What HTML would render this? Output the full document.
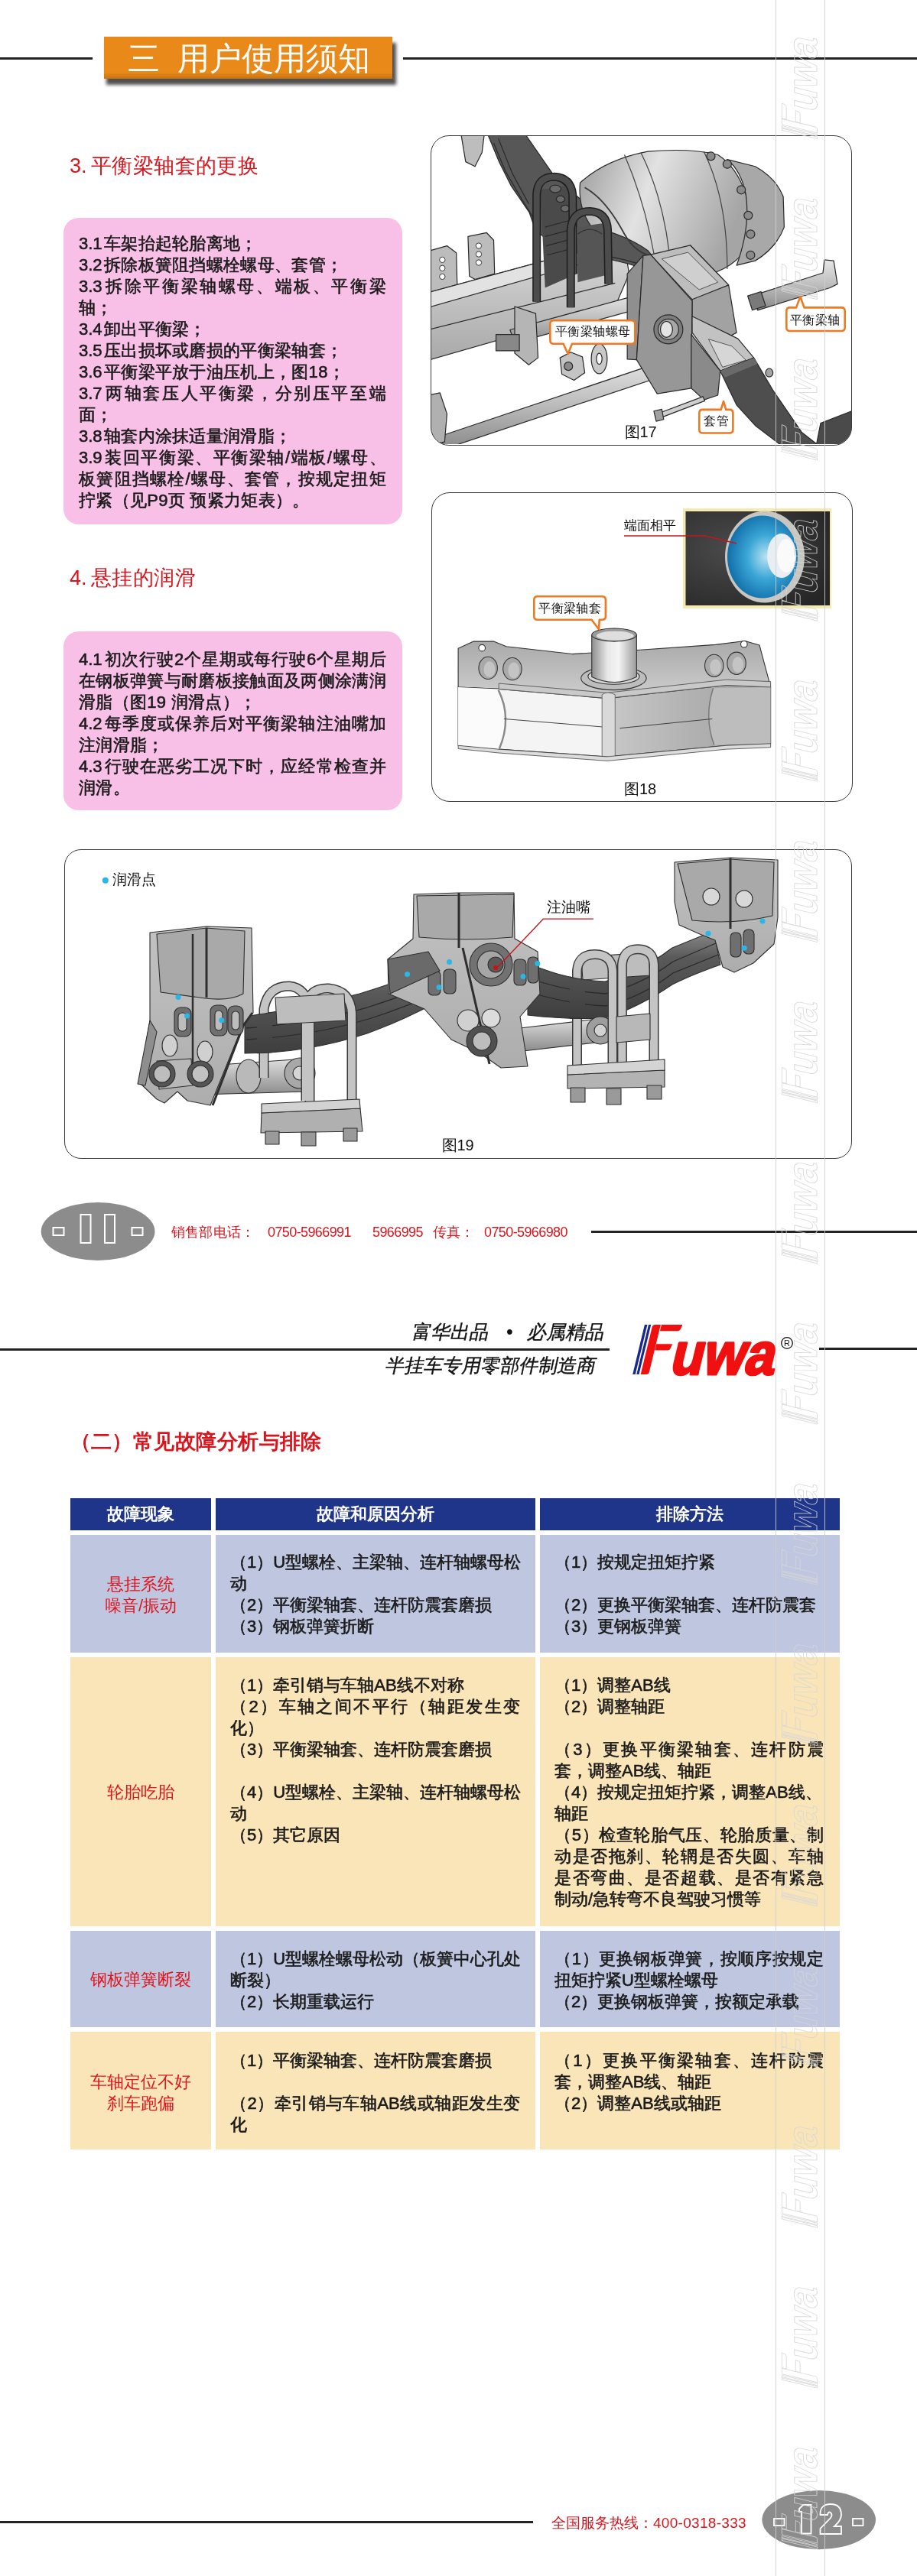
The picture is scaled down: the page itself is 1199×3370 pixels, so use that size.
<!DOCTYPE html>
<html><head><meta charset="utf-8">
<style>
*{margin:0;padding:0;box-sizing:border-box}
html,body{width:1199px;height:3370px;overflow:hidden;background:#fff}
body{position:relative;font-family:"Liberation Sans",sans-serif;color:#1a1a1a}
.a{position:absolute}
.hl{position:absolute;height:2.6px;background:#222}
.red{color:#d9141c}
.pink{position:absolute;background:#f8c0e7;border-radius:20px}
.pl{position:absolute;left:20px;width:402px;font-size:22px;letter-spacing:0.3px;line-height:28px;white-space:nowrap;height:28px;-webkit-text-stroke:0.6px #1a1a1a}
.pl.j{text-align:justify;text-align-last:justify}
.n{display:inline-block;width:33px;letter-spacing:0}
.fig{position:absolute;border:1.5px solid #3a3a3a;border-radius:22px;overflow:hidden;background:#fff}
.tag{position:absolute;border:2.5px solid #e07a1e;border-radius:6px;background:#fff;font-size:15px;line-height:22px;padding:0 6px;white-space:nowrap;color:#111}
.cap{position:absolute;font-size:17px;color:#111}
.th{position:absolute;background:#1f358a;color:#fff;font-size:22px;font-weight:bold;text-align:center;line-height:42px}
.cb{position:absolute;background:#bfc6df}
.cy{position:absolute;background:#fae5b9}
.ct{position:absolute;font-size:22px;line-height:28px;color:#1a1a1a;-webkit-text-stroke:0.6px #1a1a1a}
.cr{position:absolute;font-size:22px;line-height:28px;color:#e0141c;text-align:center}
</style></head><body><div id="wrap" style="position:absolute;left:0;top:0;width:1199px;height:3370px;will-change:transform">

<!-- ============ PAGE 1 ============ -->
<div class="hl" style="left:0;top:75.3px;width:121px"></div>
<div class="hl" style="left:527px;top:75.3px;width:672px"></div>
<div class="a" style="left:139px;top:56px;width:379px;height:55px;background:#505050;filter:blur(2px)"></div>
<div class="a" style="left:136px;top:48px;width:377px;height:55px;background:linear-gradient(#e8891a 0,#e8891a 85%,#c9730f 100%)"></div>
<div class="a" style="left:167px;top:51px;font-size:42px;line-height:52px;color:#fff;white-space:nowrap">三&nbsp;&nbsp;用户使用须知</div>

<div class="a red" style="left:91px;top:200px;font-size:27px;letter-spacing:0.4px;line-height:34px;white-space:nowrap"><span style="display:inline-block;width:28px;letter-spacing:0">3.</span>平衡梁轴套的更换</div>

<div class="pink" style="left:83px;top:285px;width:443px;height:401px">
<div class="pl" style="top:20px"><span class="n">3.1</span>车架抬起轮胎离地；</div>
<div class="pl" style="top:48px"><span class="n">3.2</span>拆除板簧阻挡螺栓螺母、套管；</div>
<div class="pl j" style="top:76px"><span class="n">3.3</span>拆除平衡梁轴螺母、端板、平衡梁</div>
<div class="pl" style="top:104px">轴；</div>
<div class="pl" style="top:132px"><span class="n">3.4</span>卸出平衡梁；</div>
<div class="pl" style="top:160px"><span class="n">3.5</span>压出损坏或磨损的平衡梁轴套；</div>
<div class="pl" style="top:188px"><span class="n">3.6</span>平衡梁平放于油压机上，图18；</div>
<div class="pl j" style="top:216px"><span class="n">3.7</span>两轴套压人平衡梁，分别压平至端</div>
<div class="pl" style="top:244px">面；</div>
<div class="pl" style="top:272px"><span class="n">3.8</span>轴套内涂抹适量润滑脂；</div>
<div class="pl j" style="top:300px"><span class="n">3.9</span>装回平衡梁、平衡梁轴/端板/螺母、</div>
<div class="pl j" style="top:328px">板簧阻挡螺栓/螺母、套管，按规定扭矩</div>
<div class="pl" style="top:356px">拧紧（见P9页 预紧力矩表）。</div>
</div>

<div class="a red" style="left:91px;top:739px;font-size:27px;letter-spacing:0.4px;line-height:34px;white-space:nowrap"><span style="display:inline-block;width:28px;letter-spacing:0">4.</span>悬挂的润滑</div>

<div class="pink" style="left:83px;top:826px;width:443px;height:234px">
<div class="pl j" style="top:23px"><span class="n">4.1</span>初次行驶2个星期或每行驶6个星期后</div>
<div class="pl j" style="top:51px">在钢板弹簧与耐磨板接触面及两侧涂满润</div>
<div class="pl" style="top:79px">滑脂（图19 润滑点）；</div>
<div class="pl j" style="top:107px"><span class="n">4.2</span>每季度或保养后对平衡梁轴注油嘴加</div>
<div class="pl" style="top:135px">注润滑脂；</div>
<div class="pl j" style="top:163px"><span class="n">4.3</span>行驶在恶劣工况下时，应经常检查并</div>
<div class="pl" style="top:191px">润滑。</div>
</div>

<!-- FIG17 -->
<svg class="a" style="left:563px;top:178px" width="552" height="403" viewBox="563 178 552 403">
<defs>
<linearGradient id="g17d" x1="0" y1="0" x2="1" y2="0.3"><stop offset="0" stop-color="#9a9a9a"/><stop offset="0.45" stop-color="#e2e2e2"/><stop offset="1" stop-color="#a5a5a5"/></linearGradient>
<linearGradient id="g17r" x1="0" y1="0" x2="0" y2="1"><stop offset="0" stop-color="#e6e6e6"/><stop offset="0.5" stop-color="#bdbdbd"/><stop offset="1" stop-color="#8a8a8a"/></linearGradient>
<linearGradient id="g17b" x1="0" y1="0" x2="0" y2="1"><stop offset="0" stop-color="#d8d8d8"/><stop offset="1" stop-color="#a9a9a9"/></linearGradient>
<clipPath id="c17"><rect x="563.5" y="177" width="550" height="405" rx="23.5"/></clipPath>
</defs>
<g clip-path="url(#c17)">
<g transform="translate(560,175) scale(0.6107)" stroke="#2a2a2a" stroke-width="2" stroke-linejoin="round">
<!-- top-left brackets -->
<polygon points="70,0 120,0 115,40 100,70 80,60" fill="#bdbdbd"/>
<polygon points="5,250 40,240 60,255 62,330 20,345 5,340" fill="#bcbcbc"/>
<polygon points="85,220 125,212 140,228 142,300 100,312 88,305" fill="#bcbcbc"/>
<g fill="#fff" stroke-width="1.5"><circle cx="30" cy="270" r="6"/><circle cx="30" cy="288" r="6"/><circle cx="30" cy="306" r="6"/><circle cx="108" cy="240" r="6"/><circle cx="108" cy="258" r="6"/><circle cx="108" cy="276" r="6"/></g>
<!-- main beam -->
<polygon points="0,340 330,250 420,240 430,300 400,370 0,485" fill="url(#g17b)"/>
<polygon points="0,340 330,250 340,275 0,372" fill="#e2e2e2"/>
<line x1="0" y1="420" x2="400" y2="320"/>
<!-- spring -->
<path d="M128,3 L209,3 L270,91 L328,142 L393,188 L458,221 L524,254 L557,278 L508,303 L426,278 L360,262 L311,254 L262,234 L229,205 L216,168 L177,111 L152,61 Z" fill="#575757"/>
<path d="M140,20 L165,80 L200,140 L228,185 M150,10 L180,85 L215,150 M330,250 L420,270 L500,292" fill="none" stroke="#2a2a2a" stroke-width="2"/>
<!-- drum -->
<path d="M325,105 Q380,55 470,38 Q560,30 620,45 Q660,70 680,130 Q695,200 670,260 Q630,305 545,310 Q500,290 470,250 Q420,215 350,200 Q320,160 325,105 Z" fill="url(#g17d)"/>
<path d="M420,45 Q470,160 490,300 M455,40 Q510,150 520,300 M590,38 Q640,140 640,290" fill="none" stroke="#444" stroke-width="2"/>
<path d="M335,115 Q380,140 420,215 Q440,250 470,260" fill="none" stroke="#3a3a3a" stroke-width="3"/>
<!-- hub -->
<path d="M640,55 L700,70 Q745,95 760,135 L762,200 Q745,245 700,272 L660,282 Q690,200 680,130 Q670,80 640,55 Z" fill="#a8a8a8"/>
<g fill="#8a8a8a"><circle cx="605" cy="48" r="9"/><circle cx="640" cy="65" r="9"/><circle cx="670" cy="120" r="9"/><circle cx="685" cy="175" r="9"/><circle cx="690" cy="215" r="9"/><circle cx="690" cy="260" r="9"/></g>
<!-- U bolts -->
<polygon points="240,120 305,110 318,300 250,330" fill="#4a4a4a" stroke="none"/>
<path d="M250,200 L305,185 M250,220 L308,205 M252,240 L310,225 M254,260 L312,245" stroke="#2a2a2a" stroke-width="2" fill="none"/>
<g fill="#6a6a6a"><ellipse cx="272" cy="118" rx="12" ry="8"/><ellipse cx="283" cy="140" rx="9" ry="7"/><ellipse cx="293" cy="160" rx="9" ry="7"/></g>
<path d="M232,360 L232,130 Q234,92 270,92 Q305,94 309,130 L310,300" fill="none" stroke="#1e1e1e" stroke-width="18"/>
<path d="M232,360 L232,130 Q234,92 270,92 Q305,94 309,130 L310,300" fill="none" stroke="#4c4c4c" stroke-width="13"/>
<polygon points="318,200 385,190 392,300 320,318" fill="#555" stroke="none"/>
<path d="M305,372 L305,205 Q308,166 346,166 Q382,168 384,205 L386,322" fill="none" stroke="#1e1e1e" stroke-width="18"/>
<path d="M305,372 L305,205 Q308,166 346,166 Q382,168 384,205 L386,322" fill="none" stroke="#4c4c4c" stroke-width="13"/>
<path d="M320,215 Q345,195 372,215" fill="none" stroke="#333" stroke-width="2"/>
<!-- second rod (axle) -->
<polygon points="175,420 450,345 462,372 185,448" fill="url(#g17r)"/>
<!-- left bearing plate -->
<polygon points="185,370 230,385 235,480 215,495 185,470" fill="#b5b5b5"/>
<rect x="145" y="430" width="50" height="35" fill="#888"/>
<!-- lower long rod -->
<polygon points="25,648 525,480 535,508 35,675" fill="url(#g17r)"/>
<!-- bracket -->
<polygon points="426,300 460,261 446,484 426,483" fill="#8f8f8f"/>
<polygon points="561,239 643,324 660,426 630,442 565,426 565,355" fill="#a2a2a2"/>
<polygon points="476,259 561,239 643,324 565,355" fill="#bdbdbd"/>
<polygon points="500,268 556,254 620,318 580,334" fill="#cfcfcf" stroke-width="1.2"/>
<polygon points="460,261 476,259 565,358 563,545 490,557 446,484" fill="#979797"/>
<circle cx="514" cy="419" r="31" fill="#7d7d7d"/>
<circle cx="514" cy="419" r="22" fill="#a8a8a8"/>
<ellipse cx="510" cy="419" rx="13" ry="17" fill="#e4e4e4"/>
<!-- sleeve / arm -->
<polygon points="565,391 663,439 697,480 625,508 565,426" fill="#c2c2c2"/>
<polygon points="600,440 650,455 680,485 630,500" fill="#d6d6d6" stroke-width="1.2"/>
<polygon points="563,430 625,508 620,560 590,570 563,545" fill="#8a8a8a"/>
<polygon points="625,508 697,480 737,548 800,640 840,671 760,671 700,625 660,581" fill="#4e4e4e"/>
<polygon points="625,508 697,480 705,493 635,522" fill="#6a6a6a" stroke="none"/>
<!-- pin -->
<path d="M700,345 L845,298 L848,270 L868,272 L876,322 L860,330 L705,378 Z" fill="url(#g17r)"/>
<rect x="688" y="342" width="30" height="32" fill="#7a7a7a" transform="rotate(-18 703 358)"/>
<!-- nut & washer -->
<polygon points="282,480 305,468 330,478 335,512 312,528 286,515" fill="#c4c4c4"/>
<circle cx="300" cy="498" r="9" fill="#8a8a8a"/>
<ellipse cx="366" cy="482" rx="17" ry="32" fill="#c8c8c8"/>
<ellipse cx="366" cy="482" rx="6" ry="12" fill="#fff"/>
<!-- thin bolt -->
<polygon points="495,598 588,563 592,572 498,608" fill="#cfcfcf"/>
<polygon points="483,594 500,590 504,612 488,616" fill="#a0a0a0"/>
<ellipse cx="730" cy="512" rx="8" ry="9" fill="#a5a5a5"/>
<!-- bottom-left bracket -->
<polygon points="0,560 25,555 40,600 35,660 0,665" fill="#b0b0b0"/>
<!-- bottom right dark -->
<polygon points="840,620 917,590 917,671 830,671" fill="#4a4a4a"/>
</g>
</g>
</svg>
<svg class="a" style="left:715.4px;top:414.5px" width="119.6" height="51.0" viewBox="715.4 414.5 119.6 51.0"><path d="M724.1999999999999,418.8 H826.2 Q830.7,418.8 830.7,423.3 V444.8 Q830.7,449.3 826.2,449.3 H748.4 L743,462.5 L737,449.3 H724.1999999999999 Q719.6999999999999,449.3 719.6999999999999,444.8 V423.3 Q719.6999999999999,418.8 724.1999999999999,418.8 Z" fill="#fff" stroke="#f07820" stroke-width="2.6" stroke-linejoin="round"/></svg>
<div class="a" style="left:726.1px;top:422.2px;font-size:16px;letter-spacing:0.4px;line-height:23.6px;white-space:nowrap;color:#111">平衡梁轴螺母</div>
<svg class="a" style="left:1023.5px;top:385.2px" width="85.0" height="52.3" viewBox="1023.5 385.2 85.0 52.3"><path d="M1032.3,402.6 H1040.6 L1045.9,388.2 L1051,402.6 H1099.7 Q1104.2,402.6 1104.2,407.1 V428.7 Q1104.2,433.2 1099.7,433.2 H1032.3 Q1027.8,433.2 1027.8,428.7 V407.1 Q1027.8,402.6 1032.3,402.6 Z" fill="#fff" stroke="#f07820" stroke-width="2.6" stroke-linejoin="round"/></svg>
<div class="a" style="left:1032.9px;top:406.6px;font-size:16px;letter-spacing:0.4px;line-height:23.6px;white-space:nowrap;color:#111">平衡梁轴</div>
<svg class="a" style="left:910.1px;top:521.8px" width="52.7" height="48.8" viewBox="910.1 521.8 52.7 48.8"><path d="M918.9,535.6999999999999 H942.8 L946.2,524.8 L949.3,535.6999999999999 H954.0 Q958.5,535.6999999999999 958.5,540.1999999999999 V561.8000000000001 Q958.5,566.3000000000001 954.0,566.3000000000001 H918.9 Q914.4,566.3000000000001 914.4,561.8000000000001 V540.1999999999999 Q914.4,535.6999999999999 918.9,535.6999999999999 Z" fill="#fff" stroke="#f07820" stroke-width="2.6" stroke-linejoin="round"/></svg>
<div class="a" style="left:920.3px;top:539.4px;font-size:16px;letter-spacing:0.4px;line-height:23.6px;white-space:nowrap;color:#111">套管</div>
<div class="cap" style="left:816.5px;top:551.5px;font-size:20px;line-height:26px">图17</div>
<div class="fig" id="f17" style="left:563px;top:176.5px;width:551px;height:406px;border-radius:24px;background:transparent"></div>
<!-- FIG18 -->
<svg class="a" style="left:564px;top:645px" width="549" height="405" viewBox="564 645 549 405">
<defs>
<linearGradient id="g18c" x1="0" y1="0" x2="1" y2="0"><stop offset="0" stop-color="#8e8e8e"/><stop offset="0.35" stop-color="#e8e8e8"/><stop offset="0.6" stop-color="#f4f4f4"/><stop offset="1" stop-color="#9a9a9a"/></linearGradient>
<linearGradient id="g18t" x1="0" y1="0" x2="0" y2="1"><stop offset="0" stop-color="#a9a9a9"/><stop offset="1" stop-color="#cfcfcf"/></linearGradient>
<linearGradient id="g18r" x1="0" y1="0" x2="1" y2="0"><stop offset="0" stop-color="#c8c8c8"/><stop offset="0.5" stop-color="#b2b2b2"/><stop offset="1" stop-color="#a0a0a0"/></linearGradient>
<linearGradient id="g18l" x1="0" y1="0" x2="1" y2="0"><stop offset="0" stop-color="#f2f2f2"/><stop offset="0.55" stop-color="#f7f7f7"/><stop offset="0.75" stop-color="#d0d0d0"/><stop offset="1" stop-color="#f3f3f3"/></linearGradient>
<radialGradient id="g18b" cx="0.55" cy="0.5" r="0.6"><stop offset="0" stop-color="#b8e2f2"/><stop offset="0.45" stop-color="#3aa6d6"/><stop offset="1" stop-color="#0b64a0"/></radialGradient>
<radialGradient id="g18k" cx="0.3" cy="0.4" r="0.8"><stop offset="0" stop-color="#4a4a4a"/><stop offset="1" stop-color="#262626"/></radialGradient>
</defs>
<g transform="translate(560,640) scale(0.6107)" stroke="#333" stroke-width="1.8" stroke-linejoin="round">
<!-- top face -->
<path d="M64,341 L97,326 L140,326 L167,337 L308,353 L442,345 L615,333 L678,325 L709,334 L733,424 L638,420 L383,448 L151,428 L64,424 Z" fill="url(#g18t)"/>
<!-- left front -->
<path d="M64,424 L151,428 L383,448 L383,573 L151,557 L64,549 Z" fill="#f4f4f4"/>
<path d="M64,424 L151,428 Q178,490 152,557 L64,549 Z" fill="#fbfbfb" stroke="none"/>
<path d="M150,430 Q180,490 152,556" fill="none" stroke="#8a8a8a" stroke-width="4"/>
<line x1="162" y1="492" x2="383" y2="510" stroke-width="1.5"/>
<!-- right front -->
<path d="M383,448 L638,420 L733,424 L733,545 L638,549 L383,573 Z" fill="url(#g18r)"/>
<path d="M610,426 Q590,488 612,548 L733,545 L733,424 Z" fill="#bdbdbd" stroke="none"/>
<path d="M610,426 Q590,488 612,548" fill="none" stroke="#7a7a7a" stroke-width="2.5"/>
<line x1="410" y1="512" x2="608" y2="492" stroke-width="1.5"/>
<!-- bevel band -->
<path d="M151,428 L383,448 L638,420 L733,424 L733,412 L638,408 L383,436 L151,416 Z" fill="#c9c9c9" stroke="#555" stroke-width="1.5"/>
<path d="M372,440 Q383,432 400,440 L400,575 L372,572 Z" fill="#d9d9d9" stroke="#666" stroke-width="1.5"/>
<path d="M64,549 L151,557 L383,573 L638,549 L733,545 L733,553 L638,557 L383,582 L151,565 L64,556 Z" fill="#dcdcdc" stroke-width="1.2"/>
<!-- holes -->
<g fill="#a9a9a9"><ellipse cx="128" cy="383" rx="20" ry="24"/><ellipse cx="180" cy="385" rx="20" ry="24"/><ellipse cx="612" cy="378" rx="20" ry="24"/><ellipse cx="660" cy="373" rx="20" ry="24"/></g>
<g fill="#c4c4c4" stroke="none"><ellipse cx="131" cy="386" rx="12" ry="17"/><ellipse cx="183" cy="388" rx="12" ry="17"/><ellipse cx="615" cy="381" rx="12" ry="17"/><ellipse cx="663" cy="376" rx="12" ry="17"/></g>
<g fill="#fff"><circle cx="115" cy="340" r="7"/><circle cx="676" cy="332" r="7"/></g>
<!-- flange & sleeve -->
<ellipse cx="397" cy="405" rx="70" ry="25" fill="#bdbdbd"/>
<ellipse cx="397" cy="401" rx="55" ry="17" fill="#d6d6d6"/>
<path d="M350,312 L350,402 Q398,425 446,402 L446,312 Z" fill="url(#g18c)"/>
<ellipse cx="398" cy="312" rx="48" ry="14" fill="#9a9a9a"/>
<ellipse cx="400" cy="314" rx="40" ry="10" fill="#dedede" stroke="none"/>
</g>
<!-- photo -->
<rect x="893" y="665" width="194" height="131" fill="#f6eab0"/>
<rect x="896.5" y="669" width="188.5" height="123" fill="url(#g18k)"/>
<ellipse cx="1000" cy="728.5" rx="52" ry="60" fill="#c8c6c0"/>
<ellipse cx="997" cy="728.5" rx="46" ry="54" fill="url(#g18b)"/>
<ellipse cx="1022" cy="727" rx="19" ry="29" fill="#e8eef2"/>
<ellipse cx="1028" cy="727" rx="12" ry="22" fill="#fafafa"/>
<polyline points="816,701 922,701 963,711" fill="none" stroke="#c8141c" stroke-width="1.4"/>
</svg>
<div class="a" style="left:816px;top:675.5px;font-size:17px;line-height:23px;color:#111;white-space:nowrap">端面相平</div>
<svg class="a" style="left:694.2px;top:776.4px" width="102.2" height="50.3" viewBox="694.2 776.4 102.2 50.3"><path d="M703.0,780.6999999999999 H787.6 Q792.1,780.6999999999999 792.1,785.1999999999999 V806.7 Q792.1,811.2 787.6,811.2 H784 L783.2,823.7 L773.7,811.2 H703.0 Q698.5,811.2 698.5,806.7 V785.1999999999999 Q698.5,780.6999999999999 703.0,780.6999999999999 Z" fill="#fff" stroke="#f07820" stroke-width="2.6" stroke-linejoin="round"/></svg>
<div class="a" style="left:704.3px;top:783.7px;font-size:16px;letter-spacing:0.4px;line-height:23.6px;white-space:nowrap;color:#111">平衡梁轴套</div>
<div class="cap" style="left:816px;top:1019px;font-size:20px;line-height:26px">图18</div>
<div class="fig" id="f18" style="left:563.5px;top:643.7px;width:551px;height:405.5px;border-radius:24px;background:transparent"></div>
<!-- FIG19 -->
<svg class="a" style="left:83px;top:1110px" width="1031" height="405" viewBox="83 1110 1031 405">
<defs>
<clipPath id="cL"><rect x="336" y="1300" width="20" height="100"/></clipPath><clipPath id="cR"><rect x="745" y="1250" width="20" height="100"/></clipPath>
<linearGradient id="g19s" x1="0" y1="0" x2="0" y2="1"><stop offset="0" stop-color="#8a8a8a"/><stop offset="0.3" stop-color="#5a5a5a"/><stop offset="1" stop-color="#3e3e3e"/></linearGradient>
<linearGradient id="g19u" x1="0" y1="0" x2="1" y2="0"><stop offset="0" stop-color="#9c9c9c"/><stop offset="0.5" stop-color="#d6d6d6"/><stop offset="1" stop-color="#a0a0a0"/></linearGradient>
<linearGradient id="g19t" x1="0" y1="0" x2="0" y2="1"><stop offset="0" stop-color="#e0e0e0"/><stop offset="0.5" stop-color="#b5b5b5"/><stop offset="1" stop-color="#8c8c8c"/></linearGradient>
<linearGradient id="g19h" x1="0" y1="0" x2="0" y2="1"><stop offset="0" stop-color="#c2c2c2"/><stop offset="1" stop-color="#adadad"/></linearGradient>
</defs>
<g stroke="#2e2e2e" stroke-width="1.1" stroke-linejoin="round">
<!-- ===== LEFT SPRING ===== -->
<path id="sprL" d="M320,1330 Q400,1318 470,1300 Q520,1285 560,1268 L585,1262 L590,1300 Q540,1330 480,1352 Q400,1378 320,1378 Z" fill="url(#g19s)"/>
<path d="M322,1345 Q410,1338 480,1318 Q530,1302 585,1280 M322,1360 Q410,1355 482,1333 Q535,1316 588,1293" fill="none" stroke="#2a2a2a" stroke-width="1.3"/>
<!-- ===== RIGHT SPRING ===== -->
<path id="sprR" d="M690,1260 Q740,1282 791,1284 Q840,1270 879,1240 L933,1218 L942,1262 Q905,1275 879,1288 Q835,1318 791,1332 Q740,1334 690,1328 Z" fill="url(#g19s)"/>
<path d="M692,1280 Q745,1298 792,1300 Q840,1288 880,1258 L936,1234 M692,1298 Q745,1314 792,1316 Q840,1304 880,1273 L939,1249" fill="none" stroke="#2a2a2a" stroke-width="1.3"/>
<!-- ===== LEFT TORQUE ROD ===== -->
<path d="M258,1395 L400,1385 L402,1428 L262,1432 Z" fill="url(#g19t)"/>
<circle cx="265" cy="1408" r="20" fill="#9a9a9a"/><circle cx="265" cy="1408" r="10" fill="#cfcfcf"/>
<circle cx="392" cy="1404" r="20" fill="#a8a8a8"/><circle cx="392" cy="1404" r="9" fill="#d5d5d5"/>
<ellipse cx="325" cy="1408" rx="16" ry="22" fill="#b9b9b9"/>
<!-- ===== LEFT HANGER ===== -->
<path d="M196,1220 L270,1212 L329,1214 L331,1325 L318,1340 L275,1446 L245,1440 L232,1428 L215,1443 L205,1438 L182,1416 L196,1335 Z" fill="url(#g19h)"/>
<path d="M205,1222 L270,1214 L320,1218 L318,1300 Q300,1310 268,1306 L210,1298 Z" fill="#a9a9a9"/>
<path d="M180,1418 L196,1335 L205,1350 L190,1420 Z" fill="#8e8e8e"/>
<line x1="270" y1="1214" x2="270" y2="1305" stroke-width="3"/>
<line x1="252" y1="1222" x2="252" y2="1420" stroke-width="2.5"/>
<path d="M330,1325 L318,1342 L278,1446" fill="none" stroke-width="3"/>
<g fill="#6f6f6f"><rect x="228" y="1318" width="22" height="38" rx="8"/><rect x="275" y="1315" width="22" height="40" rx="8"/><rect x="298" y="1316" width="20" height="38" rx="8"/></g>
<g fill="#bdbdbd"><rect x="233" y="1325" width="11" height="24" rx="5"/><rect x="281" y="1322" width="10" height="26" rx="5"/><rect x="303" y="1323" width="10" height="24" rx="5"/></g>
<ellipse cx="222" cy="1368" rx="10" ry="14" fill="#d0d0d0"/><ellipse cx="268" cy="1376" rx="10" ry="14" fill="#d0d0d0"/>
<path d="M205,1388 L250,1385 L252,1420 L208,1425 Z" fill="#b8b8b8"/>
<circle cx="212" cy="1405" r="17" fill="#555"/><circle cx="212" cy="1405" r="11" fill="#bdbdbd"/>
<circle cx="262" cy="1405" r="17" fill="#555"/><circle cx="262" cy="1405" r="11" fill="#c2c2c2"/>
<!-- ===== LEFT U-BOLT ===== -->
<path d="M345,1410 L345,1320 Q350,1290 378,1290 Q400,1292 405,1320 L405,1450 M400,1440 L400,1315 Q405,1292 430,1293 Q458,1296 460,1325 L460,1450" fill="none" stroke="#3a3a3a" stroke-width="13"/>
<path d="M345,1410 L345,1320 Q350,1290 378,1290 Q400,1292 405,1320 L405,1450 M400,1440 L400,1315 Q405,1292 430,1293 Q458,1296 460,1325 L460,1450" fill="none" stroke="#c4c4c4" stroke-width="10"/>
<path d="M360,1305 L450,1300 L452,1335 L362,1340 Z" fill="#bdbdbd"/>
<use href="#sprL" clip-path="url(#cL)"/>
<path d="M342,1456 L471,1450 L474,1480 L341,1482 Z" fill="#b0b0b0"/>
<path d="M342,1444 L470,1438 L471,1450 L342,1456 Z" fill="#d2d2d2"/>
<g fill="#9a9a9a"><rect x="347" y="1480" width="18" height="17"/><rect x="394" y="1481" width="19" height="18"/><rect x="449" y="1476" width="18" height="17"/></g>
<!-- ===== MIDDLE TORQUE ROD ===== -->
<path d="M680,1345 L790,1332 L795,1362 L684,1375 Z" fill="url(#g19t)"/>
<circle cx="785" cy="1348" r="18" fill="#9d9d9d"/><circle cx="785" cy="1348" r="8" fill="#d2d2d2"/>
<!-- ===== MIDDLE HANGER ===== -->
<path d="M541,1170 L600,1168 L672,1168 L673,1228 L703,1245 L706,1300 L680,1330 L690,1395 L655,1397 L628,1378 L590,1360 L555,1320 L508,1300 L507,1255 L540,1228 Z" fill="url(#g19h)"/>
<path d="M545,1172 L672,1170 L670,1226 Q610,1232 548,1226 Z" fill="#a9a9a9"/>
<line x1="600" y1="1168" x2="600" y2="1240" stroke-width="3"/>
<line x1="605" y1="1240" x2="640" y2="1392" stroke-width="3"/>
<circle cx="642" cy="1262" r="28" fill="#727272"/><circle cx="642" cy="1262" r="18" fill="#a6a6a6"/><circle cx="648" cy="1262" r="10" fill="#5a5a5a"/>
<circle cx="612" cy="1335" r="14" fill="#d0d0d0"/><circle cx="642" cy="1332" r="12" fill="#dcdcdc"/>
<circle cx="630" cy="1362" r="20" fill="#505050"/><circle cx="630" cy="1362" r="12" fill="#bdbdbd"/>
<g fill="#6f6f6f"><rect x="560" y="1270" width="16" height="32" rx="6"/><rect x="580" y="1268" width="16" height="32" rx="6"/><rect x="672" y="1255" width="16" height="34" rx="6"/><rect x="690" y="1252" width="14" height="34" rx="6"/></g>
<!-- ===== RIGHT U-BOLT ===== -->
<path d="M760,1252 L848,1246 L850,1276 L762,1282 Z" fill="#bdbdbd"/>
<path d="M754.5,1400 L754.5,1270 Q756,1248.6 778,1248.6 Q800,1249 801,1270 L801,1397 M813.4,1390 L813.4,1262 Q815,1241.7 834,1241.7 Q854,1242 855,1262 L855,1389" fill="none" stroke="#3a3a3a" stroke-width="13"/>
<path d="M754.5,1400 L754.5,1270 Q756,1248.6 778,1248.6 Q800,1249 801,1270 L801,1397 M813.4,1390 L813.4,1262 Q815,1241.7 834,1241.7 Q854,1242 855,1262 L855,1389" fill="none" stroke="#c4c4c4" stroke-width="10"/>
<path d="M806,1330 L850,1326 L850,1360 L806,1364 Z" fill="#b8b8b8"/>
<use href="#sprR" clip-path="url(#cR)"/>
<path d="M742,1406 L869,1400 L869,1422 L742,1424 Z" fill="#b3b3b3"/>
<path d="M742,1394 L869,1386 L869,1400 L742,1406 Z" fill="#d4d4d4"/>
<g fill="#9a9a9a"><rect x="746" y="1423" width="19" height="19"/><rect x="793" y="1424" width="19" height="21"/><rect x="846" y="1420" width="19" height="18"/></g>
<!-- ===== RIGHT HANGER ===== -->
<path d="M882,1128 L955,1122 L1017,1125 L1017,1200 L1012,1235 L985,1260 L960,1272 L945,1265 L935,1230 L915,1222 L888,1210 L882,1180 Z" fill="url(#g19h)"/>
<path d="M886,1130 L955,1124 L1012,1128 L1010,1198 Q960,1210 905,1204 Z" fill="#a9a9a9"/>
<line x1="955" y1="1123" x2="955" y2="1215" stroke-width="3"/>
<circle cx="930" cy="1173" r="11" fill="#d8d8d8"/><circle cx="973" cy="1176" r="11" fill="#d8d8d8"/>
<g fill="#6f6f6f"><rect x="955" y="1220" width="14" height="32" rx="6"/><rect x="972" y="1216" width="14" height="32" rx="6"/></g>
<!-- left end spring stub in middle hanger -->
<path d="M507,1255 L560,1245 L575,1270 L510,1300 Z" fill="#6a6a6a"/>
</g>
<!-- lube dots -->
<g fill="#29b6e8">
<circle cx="137.8" cy="1151.7" r="4"/>
<circle cx="233" cy="1304.5" r="3.5"/><circle cx="244.5" cy="1329" r="3.5"/><circle cx="289.8" cy="1334.7" r="3.5"/>
<circle cx="532.5" cy="1274.5" r="3.5"/><circle cx="574" cy="1291.5" r="3.5"/><circle cx="587.5" cy="1258.5" r="3.5"/>
<circle cx="702.8" cy="1260.5" r="3.5"/><circle cx="684" cy="1277.4" r="3.5"/>
<circle cx="926" cy="1221.3" r="3.5"/><circle cx="973.3" cy="1240.2" r="3.5"/><circle cx="997" cy="1205" r="3.5"/>
</g>
<polyline points="776,1202.2 710.3,1202.2 650,1266" fill="none" stroke="#c8141c" stroke-width="1.3"/>
<circle cx="648" cy="1266" r="3" fill="#d01010"/>
</svg>
<div class="a" style="left:147px;top:1138.5px;font-size:19px;line-height:24px;color:#111;white-space:nowrap">润滑点</div>
<div class="a" style="left:714.5px;top:1175px;font-size:19px;line-height:24px;color:#111;white-space:nowrap">注油嘴</div>
<div class="cap" style="left:577.5px;top:1484.5px;font-size:20px;line-height:26px">图19</div>
<div class="fig" id="f19" style="left:83.6px;top:1110.5px;width:1030.6px;height:405.3px;background:transparent"></div>

<!-- footer page1 -->
<svg class="a" style="left:50px;top:1568px" width="160" height="86" viewBox="50 1568 160 86">
<ellipse cx="128.1" cy="1611" rx="74.4" ry="38" fill="#8c8c8c"/>
<g fill="none" stroke="#fff" stroke-width="2">
<rect x="69.5" y="1606" width="14" height="10"/>
<rect x="105.5" y="1589" width="13" height="37"/>
<rect x="137" y="1589" width="13" height="37"/>
<rect x="172.5" y="1606" width="14" height="10"/>
</g></svg>
<div class="a" style="left:224px;top:1600px;font-size:18px;letter-spacing:0.2px;line-height:24px;color:#d9141c;white-space:nowrap">销售部电话：</div>
<div class="a" style="left:350px;top:1600px;font-size:18px;line-height:24px;color:#d9141c;white-space:nowrap;letter-spacing:-0.6px">0750-5966991</div>
<div class="a" style="left:487px;top:1600px;font-size:18px;line-height:24px;color:#d9141c;white-space:nowrap;letter-spacing:-0.6px">5966995</div>
<div class="a" style="left:566px;top:1600px;font-size:18px;letter-spacing:0.2px;line-height:24px;color:#d9141c;white-space:nowrap">传真：</div>
<div class="a" style="left:633px;top:1600px;font-size:18px;line-height:24px;color:#d9141c;white-space:nowrap;letter-spacing:-0.6px">0750-5966980</div>
<div class="hl" style="left:773px;top:1610px;width:426px"></div>


<!-- ============ PAGE 2 ============ -->
<div class="a" style="left:540px;top:1726px;-webkit-text-stroke:0.4px #111;font-size:25px;line-height:32px;white-space:nowrap;color:#111"><span style="display:inline-block;transform:skewX(-12deg)">富华出品</span></div>
<div class="a" style="left:662px;top:1726px;font-size:25px;line-height:32px;white-space:nowrap;color:#111">•</div>
<div class="a" style="left:691px;top:1726px;-webkit-text-stroke:0.4px #111;font-size:25px;line-height:32px;white-space:nowrap;color:#111"><span style="display:inline-block;transform:skewX(-12deg)">必属精品</span></div>
<div class="hl" style="left:0;top:1764px;width:797px"></div>
<div class="a" style="left:505px;top:1770px;-webkit-text-stroke:0.4px #111;font-size:25px;line-height:32px;white-space:nowrap;color:#111"><span style="display:inline-block;transform:skewX(-12deg)">半挂车专用零部件制造商</span></div>
<div class="hl" style="left:1071px;top:1763px;width:128px"></div>
<svg class="a" style="left:0;top:0" width="0" height="0"><defs>
<g id="fws"><polygon points="7.2,0 10.7,0 10.7,65 7.2,65"/><polygon points="12.3,0 15.5,0 15.5,65 12.3,65"/></g>
<g id="fwr"><path d="M17.7,3 Q17.7,0 21,0 L28.2,0 L28.2,62 Q28.2,65 25,65 L17.7,65 Z"/>
<path d="M29.2,0 L56,0 Q57,0 56.5,2 L55.5,6 Q55,8.3 52,8.3 L29.2,8.3 Z"/>
<path d="M28.6,25.3 L49.5,25.3 L48.5,31 Q48,33.6 45,33.6 L28.6,33.6 Z"/>
</g>
<g id="fwt"><text x="54" y="65" font-family="Liberation Sans" font-weight="bold" font-size="78" textLength="136" lengthAdjust="spacingAndGlyphs">uwa</text></g>
</defs></svg>
<svg class="a" style="left:820px;top:1725px" width="225" height="80" viewBox="0 0 225 80">
<g transform="translate(0,8) matrix(1,0,-0.2416,1,15.7,0)">
<use href="#fws" fill="#1a2a8a"/>
<use href="#fwr" fill="#f01010"/>
<use href="#fwt" fill="#f01010" stroke="#f01010" stroke-width="3.2" stroke-linejoin="round"/>
</g>
<circle cx="209" cy="32" r="7.3" fill="none" stroke="#111" stroke-width="1.3"/>
<text x="209" y="36" font-family="Liberation Sans" font-size="11" text-anchor="middle" fill="#111">R</text>
</svg>


<div class="a red" style="left:91.5px;top:1869px;font-size:27px;letter-spacing:0.45px;line-height:34px;font-weight:bold;white-space:nowrap">（二）常见故障分析与排除</div>

<div class="th" style="left:92px;top:1960px;width:184px;height:42px">故障现象</div>
<div class="th" style="left:282px;top:1960px;width:418px;height:42px">故障和原因分析</div>
<div class="th" style="left:706px;top:1960px;width:392px;height:42px">排除方法</div>
<div class="cb" style="left:92px;top:2008px;width:184px;height:154px"></div>
<div class="cb" style="left:282px;top:2008px;width:418px;height:154px"></div>
<div class="cb" style="left:706px;top:2008px;width:392px;height:154px"></div>
<div class="cy" style="left:92px;top:2168px;width:184px;height:352px"></div>
<div class="cy" style="left:282px;top:2168px;width:418px;height:352px"></div>
<div class="cy" style="left:706px;top:2168px;width:392px;height:352px"></div>
<div class="cb" style="left:92px;top:2526px;width:184px;height:126px"></div>
<div class="cb" style="left:282px;top:2526px;width:418px;height:126px"></div>
<div class="cb" style="left:706px;top:2526px;width:392px;height:126px"></div>
<div class="cy" style="left:92px;top:2658px;width:184px;height:154px"></div>
<div class="cy" style="left:282px;top:2658px;width:418px;height:154px"></div>
<div class="cy" style="left:706px;top:2658px;width:392px;height:154px"></div>
<div class="cr" style="left:92px;top:2059px;width:184px;white-space:nowrap">悬挂系统</div>
<div class="cr" style="left:92px;top:2087px;width:184px;white-space:nowrap">噪音/振动</div>
<div class="ct" style="left:301px;top:2030px;width:379px;text-align:justify;text-align-last:justify;white-space:nowrap">（1）U型螺栓、主梁轴、连杆轴螺母松</div>
<div class="ct" style="left:301px;top:2058px;width:379px;white-space:nowrap">动</div>
<div class="ct" style="left:301px;top:2086px;width:379px;white-space:nowrap">（2）平衡梁轴套、连杆防震套磨损</div>
<div class="ct" style="left:301px;top:2114px;width:379px;white-space:nowrap">（3）钢板弹簧折断</div>
<div class="ct" style="left:725px;top:2030px;width:352px;white-space:nowrap">（1）按规定扭矩拧紧</div>
<div class="ct" style="left:725px;top:2086px;width:352px;white-space:nowrap">（2）更换平衡梁轴套、连杆防震套</div>
<div class="ct" style="left:725px;top:2114px;width:352px;white-space:nowrap">（3）更钢板弹簧</div>
<div class="cr" style="left:92px;top:2331px;width:184px;white-space:nowrap">轮胎吃胎</div>
<div class="ct" style="left:301px;top:2191px;width:379px;white-space:nowrap">（1）牵引销与车轴AB线不对称</div>
<div class="ct" style="left:301px;top:2219px;width:379px;text-align:justify;text-align-last:justify;white-space:nowrap">（2）车轴之间不平行（轴距发生变</div>
<div class="ct" style="left:301px;top:2247px;width:379px;white-space:nowrap">化）</div>
<div class="ct" style="left:301px;top:2275px;width:379px;white-space:nowrap">（3）平衡梁轴套、连杆防震套磨损</div>
<div class="ct" style="left:301px;top:2331px;width:379px;text-align:justify;text-align-last:justify;white-space:nowrap">（4）U型螺栓、主梁轴、连杆轴螺母松</div>
<div class="ct" style="left:301px;top:2359px;width:379px;white-space:nowrap">动</div>
<div class="ct" style="left:301px;top:2387px;width:379px;white-space:nowrap">（5）其它原因</div>
<div class="ct" style="left:725px;top:2191px;width:352px;white-space:nowrap">（1）调整AB线</div>
<div class="ct" style="left:725px;top:2219px;width:352px;white-space:nowrap">（2）调整轴距</div>
<div class="ct" style="left:725px;top:2275px;width:352px;text-align:justify;text-align-last:justify;white-space:nowrap">（3）更换平衡梁轴套、连杆防震</div>
<div class="ct" style="left:725px;top:2303px;width:352px;white-space:nowrap">套，调整AB线、轴距</div>
<div class="ct" style="left:725px;top:2331px;width:352px;white-space:nowrap">（4）按规定扭矩拧紧，调整AB线、</div>
<div class="ct" style="left:725px;top:2359px;width:352px;white-space:nowrap">轴距</div>
<div class="ct" style="left:725px;top:2387px;width:352px;text-align:justify;text-align-last:justify;white-space:nowrap">（5）检查轮胎气压、轮胎质量、制</div>
<div class="ct" style="left:725px;top:2415px;width:352px;text-align:justify;text-align-last:justify;white-space:nowrap">动是否拖刹、轮辋是否失圆、车轴</div>
<div class="ct" style="left:725px;top:2443px;width:352px;text-align:justify;text-align-last:justify;white-space:nowrap">是否弯曲、是否超载、是否有紧急</div>
<div class="ct" style="left:725px;top:2471px;width:352px;white-space:nowrap">制动/急转弯不良驾驶习惯等</div>
<div class="cr" style="left:92px;top:2576px;width:184px;white-space:nowrap">钢板弹簧断裂</div>
<div class="ct" style="left:301px;top:2549px;width:379px;text-align:justify;text-align-last:justify;white-space:nowrap">（1）U型螺栓螺母松动（板簧中心孔处</div>
<div class="ct" style="left:301px;top:2577px;width:379px;white-space:nowrap">断裂）</div>
<div class="ct" style="left:301px;top:2605px;width:379px;white-space:nowrap">（2）长期重载运行</div>
<div class="ct" style="left:725px;top:2549px;width:352px;text-align:justify;text-align-last:justify;white-space:nowrap">（1）更换钢板弹簧，按顺序按规定</div>
<div class="ct" style="left:725px;top:2577px;width:352px;white-space:nowrap">扭矩拧紧U型螺栓螺母</div>
<div class="ct" style="left:725px;top:2605px;width:352px;white-space:nowrap">（2）更换钢板弹簧，按额定承载</div>
<div class="cr" style="left:92px;top:2709.5px;width:184px;white-space:nowrap">车轴定位不好</div>
<div class="cr" style="left:92px;top:2737.5px;width:184px;white-space:nowrap">刹车跑偏</div>
<div class="ct" style="left:301px;top:2682px;width:379px;white-space:nowrap">（1）平衡梁轴套、连杆防震套磨损</div>
<div class="ct" style="left:301px;top:2738px;width:379px;text-align:justify;text-align-last:justify;white-space:nowrap">（2）牵引销与车轴AB线或轴距发生变</div>
<div class="ct" style="left:301px;top:2766px;width:379px;white-space:nowrap">化</div>
<div class="ct" style="left:725px;top:2682px;width:352px;text-align:justify;text-align-last:justify;white-space:nowrap">（1）更换平衡梁轴套、连杆防震</div>
<div class="ct" style="left:725px;top:2710px;width:352px;white-space:nowrap">套，调整AB线、轴距</div>
<div class="ct" style="left:725px;top:2738px;width:352px;white-space:nowrap">（2）调整AB线或轴距</div>

<div class="hl" style="left:0;top:3298.3px;width:697px"></div>
<div class="a" style="left:721px;top:3287.5px;font-size:19px;line-height:25px;color:#d9141c;white-space:nowrap">全国服务热线：<span style="letter-spacing:0.3px">400-0318-333</span></div>
<svg class="a" style="left:990px;top:3250px" width="165" height="95" viewBox="990 3250 165 95">
<ellipse cx="1070.7" cy="3296.6" rx="74.3" ry="38.6" fill="#8c8c8c"/>
<g fill="none" stroke="#fff" stroke-width="1.8">
<rect x="1012" y="3295" width="13.5" height="9"/>
<path d="M1050,3277 L1060.5,3277 L1060.5,3314.5 L1048,3314.5 L1048,3286 L1045,3286 L1045,3282 Z"/>
<path d="M1072.5,3290 Q1072,3276 1086,3276 Q1100,3276 1100,3290 Q1100,3297 1091,3305 L1100,3305 L1100,3315 L1072.5,3315 L1072.5,3308 L1086,3294 Q1089,3290 1086,3287 Q1083,3285 1082,3290 Z"/>
<rect x="1115" y="3295" width="13.5" height="9"/>
</g></svg>


<svg class="a" style="left:0;top:0;pointer-events:none" width="1199" height="3370" viewBox="0 0 1199 3370">
<g stroke="#cfcfcf" stroke-width="1" opacity="0.85"><line x1="1014.5" y1="0" x2="1014.5" y2="3370"/><line x1="1078.5" y1="0" x2="1078.5" y2="3370"/></g>
<g fill="none" stroke="#d6d6d6" stroke-width="1.3" opacity="0.9">
<g transform="translate(1022.3,186.6) rotate(-90) scale(0.71) matrix(1,0,-0.2416,1,15.7,0)"><use href="#fws"/><use href="#fwr"/><use href="#fwt"/></g>
<g transform="translate(1022.3,396.8) rotate(-90) scale(0.71) matrix(1,0,-0.2416,1,15.7,0)"><use href="#fws"/><use href="#fwr"/><use href="#fwt"/></g>
<g transform="translate(1022.3,607.0) rotate(-90) scale(0.71) matrix(1,0,-0.2416,1,15.7,0)"><use href="#fws"/><use href="#fwr"/><use href="#fwt"/></g>
<g transform="translate(1022.3,817.2) rotate(-90) scale(0.71) matrix(1,0,-0.2416,1,15.7,0)"><use href="#fws"/><use href="#fwr"/><use href="#fwt"/></g>
<g transform="translate(1022.3,1027.4) rotate(-90) scale(0.71) matrix(1,0,-0.2416,1,15.7,0)"><use href="#fws"/><use href="#fwr"/><use href="#fwt"/></g>
<g transform="translate(1022.3,1237.6) rotate(-90) scale(0.71) matrix(1,0,-0.2416,1,15.7,0)"><use href="#fws"/><use href="#fwr"/><use href="#fwt"/></g>
<g transform="translate(1022.3,1447.8) rotate(-90) scale(0.71) matrix(1,0,-0.2416,1,15.7,0)"><use href="#fws"/><use href="#fwr"/><use href="#fwt"/></g>
<g transform="translate(1022.3,1658.0) rotate(-90) scale(0.71) matrix(1,0,-0.2416,1,15.7,0)"><use href="#fws"/><use href="#fwr"/><use href="#fwt"/></g>
<g transform="translate(1022.3,1868.2) rotate(-90) scale(0.71) matrix(1,0,-0.2416,1,15.7,0)"><use href="#fws"/><use href="#fwr"/><use href="#fwt"/></g>
<g transform="translate(1022.3,2078.4) rotate(-90) scale(0.71) matrix(1,0,-0.2416,1,15.7,0)"><use href="#fws"/><use href="#fwr"/><use href="#fwt"/></g>
<g transform="translate(1022.3,2288.6) rotate(-90) scale(0.71) matrix(1,0,-0.2416,1,15.7,0)"><use href="#fws"/><use href="#fwr"/><use href="#fwt"/></g>
<g transform="translate(1022.3,2498.8) rotate(-90) scale(0.71) matrix(1,0,-0.2416,1,15.7,0)"><use href="#fws"/><use href="#fwr"/><use href="#fwt"/></g>
<g transform="translate(1022.3,2709.0) rotate(-90) scale(0.71) matrix(1,0,-0.2416,1,15.7,0)"><use href="#fws"/><use href="#fwr"/><use href="#fwt"/></g>
<g transform="translate(1022.3,2919.2) rotate(-90) scale(0.71) matrix(1,0,-0.2416,1,15.7,0)"><use href="#fws"/><use href="#fwr"/><use href="#fwt"/></g>
<g transform="translate(1022.3,3129.4) rotate(-90) scale(0.71) matrix(1,0,-0.2416,1,15.7,0)"><use href="#fws"/><use href="#fwr"/><use href="#fwt"/></g>
<g transform="translate(1022.3,3339.6) rotate(-90) scale(0.71) matrix(1,0,-0.2416,1,15.7,0)"><use href="#fws"/><use href="#fwr"/><use href="#fwt"/></g>
</g></svg>
</div></body></html>
